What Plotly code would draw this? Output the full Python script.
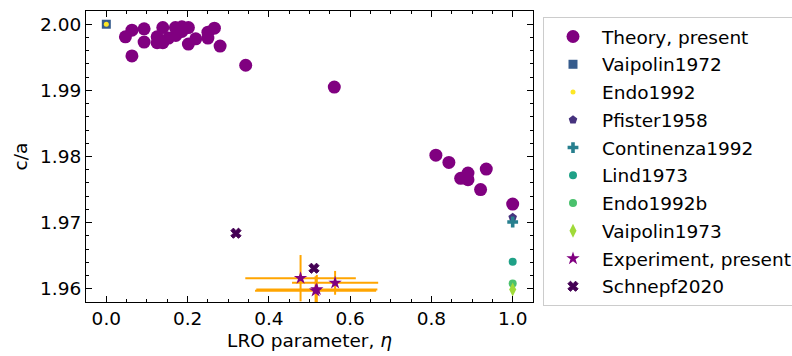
import plotly.graph_objects as go

# ---- data ----
theory_x = [0.047, 0.063, 0.063, 0.093, 0.093, 0.125, 0.125, 0.139, 0.139, 0.153,
            0.170, 0.171, 0.186, 0.186, 0.202, 0.202, 0.220, 0.250, 0.250, 0.266,
            0.280, 0.343, 0.561, 0.811, 0.843, 0.872, 0.890, 0.890, 0.921, 0.935, 1.0]
theory_y = [1.9981, 1.9991, 1.9952, 1.9993, 1.9973, 1.9981, 1.9972, 1.9995, 1.9972, 1.9979,
            1.9995, 1.9983, 1.9996, 1.9989, 1.9995, 1.9970, 1.9978, 1.9988, 1.9979, 1.9994,
            1.9967, 1.9938, 1.9905, 1.9802, 1.9791, 1.9767, 1.9775, 1.9765, 1.9750, 1.9781, 1.9728]

vaipolin1972_x = [0.0]; vaipolin1972_y = [2.0]
endo1992_x = [0.0]; endo1992_y = [2.0]
pfister1958_x = [1.0]; pfister1958_y = [1.9708]
continenza1992_x = [1.0]; continenza1992_y = [1.9701]
lind1973_x = [1.0]; lind1973_y = [1.9641]
endo1992b_x = [1.0]; endo1992b_y = [1.9608]
vaipolin1973_x = [1.0]; vaipolin1973_y = [1.9599]

exp_x = [0.478, 0.563, 0.518, 0.515]
exp_y = [1.9616, 1.9609, 1.9599, 1.9597]
exp_xerr = [0.136, 0.106, 0.149, 0.149]
exp_yerr = [0.0035, 0.0018, 0.0022, 0.0022]

schnepf_x = [0.319, 0.511]
schnepf_y = [1.9684, 1.9631]

x_ticks = [0.0, 0.2, 0.4, 0.6, 0.8, 1.0]
y_ticks = [1.96, 1.97, 1.98, 1.99, 2.00]

FONT = "DejaVu Sans"
fig = go.Figure()

def add(name, x, y, symbol, color, size, line_w=0, **kw):
    fig.add_trace(go.Scatter(
        x=x, y=y, mode="markers", name=name, legendgroup=name,
        marker=dict(symbol=symbol, color=color, size=size,
                    line=dict(width=line_w, color=color)),
        **kw))

add("Theory, present", theory_x, theory_y, "circle", "#800080", 13)
add("Vaipolin1972", vaipolin1972_x, vaipolin1972_y, "square", "#365c8d", 9)
add("Endo1992", endo1992_x, endo1992_y, "circle", "#fde725", 5)
add("Pfister1958", pfister1958_x, pfister1958_y, "pentagon", "#46327e", 9)
add("Continenza1992", continenza1992_x, continenza1992_y, "cross", "#277f8e", 9)
add("Lind1973", lind1973_x, lind1973_y, "circle", "#1fa187", 8)
add("Endo1992b", endo1992b_x, endo1992b_y, "circle", "#4ac16d", 8)
add("Vaipolin1973", vaipolin1973_x, vaipolin1973_y, "diamond-tall", "#a0da39", 10)
add("Experiment, present", exp_x, exp_y, "star", "#800080", 10,
    error_x=dict(type="data", array=exp_xerr, color="orange", thickness=2, width=0),
    error_y=dict(type="data", array=exp_yerr, color="orange", thickness=2, width=0))
add("Schnepf2020", schnepf_x, schnepf_y, "x", "#440154", 9, line_w=1,
    error_x=dict(type="data", array=[0, 0], color="orange", thickness=2, width=0),
    error_y=dict(type="data", array=[0, 0], color="orange", thickness=2, width=0))

axis_common = dict(
    showline=True, linecolor="black", linewidth=1, mirror="allticks",
    ticks="inside", ticklen=6, tickwidth=1, tickcolor="black",
    showgrid=False, zeroline=False,
    tickfont=dict(family=FONT, size=18.5, color="black"),
)

fig.update_xaxes(
    range=[-0.05, 1.05], tickvals=x_ticks, ticktext=[f"{v:.1f}" for v in x_ticks],
    title=dict(text="LRO parameter, <i>η</i>", font=dict(family=FONT, size=18.5, color="black"), standoff=5),
    minor=dict(dtick=0.05, tick0=0, ticks="inside", ticklen=3, tickcolor="black"),
    **axis_common)
fig.update_yaxes(
    range=[1.958, 2.002], tickvals=y_ticks, ticktext=[f"{v:.2f}" for v in y_ticks],
    title=dict(text="c/a", font=dict(family=FONT, size=18.5, color="black"), standoff=7),
    minor=dict(dtick=0.002, tick0=1.96, ticks="inside", ticklen=3, tickcolor="black"),
    **axis_common)

fig.update_layout(
    width=792, height=356,
    margin=dict(l=86, r=259, t=11, b=54, autoexpand=False),
    paper_bgcolor="white", plot_bgcolor="white",
    font=dict(family=FONT, size=18.5, color="black"),
    legend=dict(xref="container", yref="container",
                x=543 / 792, y=1 - 17 / 356, xanchor="left", yanchor="top",
                bgcolor="white", bordercolor="#cccccc", borderwidth=1,
                font=dict(family=FONT, size=18.5, color="black"),
                tracegroupgap=0.7, itemwidth=48, maxheight=400),
    showlegend=True,
)

fig.write_html("out.html")
